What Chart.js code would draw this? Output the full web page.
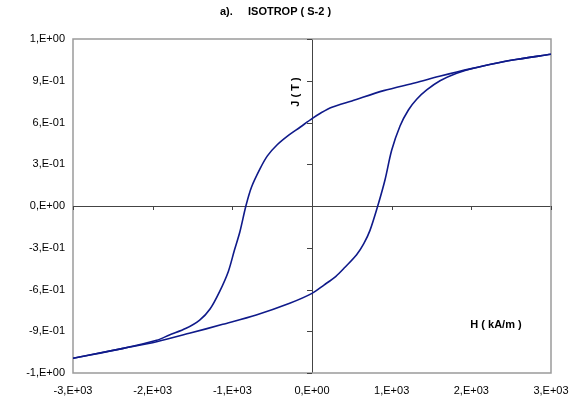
<!DOCTYPE html>
<html>
<head>
<meta charset="utf-8">
<script src="https://cdn.jsdelivr.net/npm/chart.js@4/dist/chart.umd.min.js"></script>
<style>
  html, body { margin:0; padding:0; background:#fff; }
  #wrap { width:573px; height:407px; }
</style>
</head>
<body>
<div id="wrap"><canvas id="loop"></canvas></div>
<script>
// hysteresis loop

// descending branch (from +3000 down to -3000)
const downH = [3000, 2500, 2000, 1600, 1300, 900, 500, 250, 100, 0, -150, -300, -440, -560, -650, -760, -830, -905, -975, -1050, -1160, -1280, -1410, -1580, -1790, -1950, -2370, -3000];
const downJ = [1.09, 1.047, 0.987, 0.932, 0.886, 0.829, 0.755, 0.71, 0.665, 0.628, 0.566, 0.505, 0.438, 0.36, 0.27, 0.135, 0.0, -0.185, -0.32, -0.47, -0.615, -0.74, -0.82, -0.879, -0.927, -0.965, -1.023, -1.094];

// ascending branch (from -3000 up to +3000)
const upH = [-3000, -2370, -1950, -1540, -1120, -700, -280, 0, 150, 300, 414, 560, 650, 728, 825, 916, 1000, 1105, 1210, 1314, 1440, 1607, 1816, 2025, 2500, 3000];
const upJ = [-1.094, -1.023, -0.975, -0.915, -0.85, -0.783, -0.699, -0.628, -0.568, -0.505, -0.44, -0.35, -0.27, -0.175, 0.0, 0.187, 0.40, 0.575, 0.69, 0.767, 0.834, 0.90, 0.954, 0.99, 1.047, 1.09];

const xMin = -3000, xMax = 3000, xStep = 1000;
const yMin = -1.2, yMax = 1.2, yStep = 0.3;

const titleText = 'a).     ISOTROP ( S-2 )';
const yTitle = 'J ( T )';
const xTitle = 'H ( kA/m )';

const lineColor = '#0f1a8a';
const font = 'Liberation Sans, Arial, sans-serif';

// excel style 0.E+00 with comma
function sci(v){
  if (Math.abs(v) < 1e-9) return '0,E+00';
  let e = Math.floor(Math.log10(Math.abs(v)) + 1e-9);
  let m = Math.round(v / Math.pow(10, e));
  if (Math.abs(m) >= 10){ m = m/10; e += 1; }
  const es = (e < 0 ? '-' : '+') + String(Math.abs(e)).padStart(2,'0');
  return m + ',E' + es;
}

function pts(hs, js){ return hs.map((h,i)=>({x:h, y:js[i]})); }

// frame + axis ticks on the zero lines + in-plot axis titles
const decor = {
  id:'decor',
  beforeDatasetsDraw(chart){
    const {ctx, chartArea:a, scales:{x, y}} = chart;
    ctx.save();
    ctx.strokeStyle = '#9a9a9a';
    ctx.lineWidth = 1.5;
    ctx.strokeRect(a.left, a.top, a.right-a.left, a.bottom-a.top);

    const x0 = x.getPixelForValue(0), y0 = y.getPixelForValue(0);
    ctx.strokeStyle = '#444';
    ctx.lineWidth = 1;
    ctx.beginPath();
    x.ticks.forEach(t=>{
      const px = Math.round(x.getPixelForValue(t.value)) + 0.5;
      ctx.moveTo(px, y0); ctx.lineTo(px, y0 + 4);
    });
    y.ticks.forEach(t=>{
      const py = Math.round(y.getPixelForValue(t.value)) + 0.5;
      ctx.moveTo(x0 - 5, py); ctx.lineTo(x0, py);
    });
    ctx.stroke();

    ctx.fillStyle = '#000';
    ctx.font = 'bold 11px ' + font;
    ctx.textAlign = 'center';
    ctx.textBaseline = 'middle';
    ctx.save();
    ctx.translate(x0 - 16, 92);
    ctx.rotate(-Math.PI/2);
    ctx.fillText(yTitle, 0, 0);
    ctx.restore();
    ctx.fillText(xTitle, 496, 325);
    ctx.restore();
  }
};

new Chart(document.getElementById('loop'), {
  type:'scatter',
  data:{
    datasets:[
      {data:pts(downH, downJ), showLine:true, borderColor:lineColor, borderWidth:1.6, pointRadius:0, tension:0.3, fill:false},
      {data:pts(upH, upJ), showLine:true, borderColor:lineColor, borderWidth:1.6, pointRadius:0, tension:0.3, fill:false}
    ]
  },
  options:{
    responsive:true,
    maintainAspectRatio:false,
    animation:false,
    layout:{padding:{left:0, right:22, top:0, bottom:0}},
    plugins:{
      legend:{display:false},
      tooltip:{enabled:false},
      title:{
        display:true,
        text:titleText,
        color:'#000',
        font:{family:font, size:11, weight:'bold'},
        padding:{top:5, bottom:20.8}
      }
    },
    scales:{
      x:{
        type:'linear', min:xMin, max:xMax,
        ticks:{stepSize:xStep, callback:v=>sci(v), color:'#000', font:{family:font, size:11}, padding:11, maxRotation:0},
        grid:{drawTicks:false, color:c=>c.tick && c.tick.value===0 ? '#444' : 'rgba(0,0,0,0)'},
        border:{display:false},
        afterFit(s){ s.height = 34; s.paddingLeft = 0; s.paddingRight = 0; }
      },
      y:{
        type:'linear', min:yMin, max:yMax,
        ticks:{stepSize:yStep, callback:v=>sci(v), color:'#000', font:{family:font, size:11}, padding:8},
        grid:{drawTicks:false, color:c=>c.tick && Math.abs(c.tick.value)<1e-9 ? '#444' : 'rgba(0,0,0,0)'},
        border:{display:false},
        afterFit(s){ s.width = 73; s.paddingTop = 0; s.paddingBottom = 0; }
      }
    }
  },
  plugins:[decor]
});
</script>
</body>
</html>
